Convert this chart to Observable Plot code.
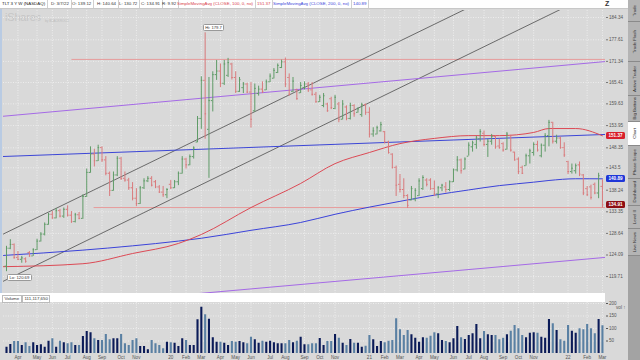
<!DOCTYPE html>
<html><head><meta charset="utf-8">
<script src="https://cdn.jsdelivr.net/npm/d3@7"></script>
<script src="https://cdn.jsdelivr.net/npm/@observablehq/plot@0.6"></script>
<style>
html,body{margin:0;padding:0;}
body{width:640px;height:360px;overflow:hidden;background:#d9d9d9;font-family:"Liberation Sans",Arial,sans-serif;}
#wrap{position:relative;width:640px;height:360px;background:#d9d9d9;}
.abs{position:absolute;}
#hdr{left:0;top:0;width:628px;height:9px;background:#fff;border-bottom:1px solid #c8c8c8;box-sizing:border-box;}
.hi{position:absolute;top:0;height:8px;line-height:8px;font-size:4.4px;color:#333;white-space:nowrap;border-right:1px solid #d0d0d0;padding:0 2px;box-sizing:border-box;}
#volstrip{left:0;top:293px;width:605px;height:9px;background:#fff;}
.vbox{position:absolute;top:1.5px;height:6px;line-height:6px;font-size:4.4px;color:#333;border:0.6px solid #bbb;padding:0 1.5px;background:#fff;white-space:nowrap;}
#side{left:628px;top:0;width:12px;height:360px;background:#a3a3a3;}
.tab{position:absolute;left:0;width:12px;border-bottom:1px solid #8a8a8a;box-sizing:border-box;background:#b4b4b4;display:flex;align-items:center;justify-content:center;}
.tab span{writing-mode:vertical-rl;transform:rotate(180deg);font-size:4.4px;color:#333;white-space:nowrap;}
.badge{position:absolute;left:606px;width:19px;height:7px;line-height:7px;font-size:4.6px;color:#fff;text-align:center;border-radius:1.5px;font-weight:bold;}
.lab{position:absolute;font-size:4.2px;line-height:5px;height:5px;padding:0 1.5px;background:#fff;border:0.6px solid #999;border-radius:1.5px;color:#333;white-space:nowrap;}
svg{position:absolute;left:0;}
</style></head>
<body><div id="wrap"></div>
<script>
// ---- weekly OHLC (TLT, 3 years weekly) ----
const opens=[121.8,125.5,126.3,123.6,123.2,123.3,124.6,123.9,125.2,127.0,
128.5,130.6,132.8,132.0,133.6,132.4,133.9,132.6,131.2,132.7,
131.9,136.8,142.4,146.8,145.2,148.4,145.4,142.2,138.2,141.8,
145.8,141.0,140.6,138.8,136.4,135.2,138.8,140.4,141.0,140.2,
139.0,137.8,137.2,139.6,138.8,140.2,142.2,145.6,144.2,146.2,
149.8,155.8,166.0,153.0,160.5,167.6,168.6,165.2,167.4,170.6,
166.8,163.0,164.0,165.0,162.8,157.8,162.4,163.6,163.4,165.6,
166.6,168.2,169.6,171.2,166.8,163.0,163.4,162.6,164.0,165.0,
163.4,162.2,160.2,159.2,159.6,161.0,158.4,159.6,155.6,158.8,
155.8,159.2,157.4,156.8,159.4,157.4,151.8,151.8,152.6,152.4,
149.8,146.8,143.6,139.6,138.4,137.0,136.0,136.2,137.0,138.6,
140.6,140.6,138.6,137.4,138.8,139.0,138.4,140.2,143.0,145.4,
143.2,146.3,148.6,149.2,150.6,152.0,149.2,150.0,151.2,148.8,
149.4,148.0,151.4,147.3,145.6,143.6,144.0,146.4,147.2,149.2,
146.4,149.0,151.4,154.8,150.0,150.8,148.4,145.0,142.6,142.8,
144.2,141.8,138.6,139.0,139.6,137.6,139.12];
const highs=[125.9,127.3,126.4,124.8,123.8,123.5,124.8,125.4,127.4,128.8,
130.9,133.0,133.4,134.1,133.9,134.2,134.7,133.4,133.0,133.2,
137.2,143.2,148.6,148.0,149.0,148.6,146.2,142.5,142.5,146.2,
146.0,142.5,141.0,140.0,138.6,139.1,140.9,141.4,141.4,140.5,
139.3,139.1,138.6,140.5,140.5,142.5,146.2,145.8,146.6,148.6,
156.3,167.0,179.7,166.8,168.4,171.6,170.6,171.6,172.2,170.8,
168.4,166.8,165.4,165.2,165.4,165.0,164.4,165.6,166.1,167.8,
169.3,170.6,171.7,172.3,167.8,166.8,163.6,165.4,165.6,165.4,
165.4,162.7,161.9,162.4,159.8,161.4,161.9,160.0,160.5,159.1,
159.8,159.4,158.6,159.8,159.6,158.6,153.4,153.8,154.8,152.5,
150.0,146.9,143.9,141.9,140.9,137.2,139.1,138.6,140.9,141.6,
140.9,140.9,140.4,139.1,139.6,140.0,140.4,143.2,146.2,145.6,
145.9,149.6,150.0,151.2,152.9,152.6,150.5,151.7,151.4,150.5,
149.6,152.2,151.5,147.3,145.9,143.9,146.8,148.0,149.6,150.0,
149.3,151.9,155.3,154.8,151.5,151.0,149.6,145.1,144.4,144.4,
144.9,141.9,139.1,139.4,139.9,142.2,140.64];
const lows=[120.69,125.2,123.2,122.9,122.4,122.4,123.6,123.8,125.0,126.8,
128.1,130.4,131.7,131.8,132.0,131.9,132.2,130.8,130.9,131.6,
131.7,136.6,142.2,143.7,145.0,144.8,141.6,136.8,138.0,141.4,
140.5,140.1,138.2,135.8,134.5,135.0,138.4,140.0,139.0,138.6,
137.5,136.6,136.3,138.4,138.6,139.3,142.0,143.2,144.0,145.6,
149.6,153.0,150.5,141.0,157.5,166.0,164.0,164.6,166.8,166.1,
162.4,162.7,162.4,162.4,153.3,157.4,161.7,162.4,163.2,165.4,
166.4,167.9,169.3,164.0,161.7,162.7,160.6,162.4,163.4,162.7,
161.7,159.8,160.0,158.6,157.4,158.1,158.1,154.7,155.4,155.2,
155.4,156.1,157.2,156.1,156.6,150.8,151.0,151.6,152.3,149.3,
146.8,143.2,136.8,137.6,136.3,134.1,135.8,135.6,136.8,138.2,
139.0,138.2,136.8,136.3,137.9,137.6,137.9,140.0,142.5,142.0,
143.0,146.3,147.3,148.0,149.8,148.6,146.0,149.0,148.0,148.0,
147.3,147.8,147.3,145.1,141.9,141.9,143.9,144.4,146.3,147.3,
145.9,147.3,148.6,149.3,149.3,148.0,146.0,141.9,142.0,142.0,
141.4,137.0,136.8,136.0,137.2,136.3,134.2];
const closes=[125.5,126.3,123.6,123.2,123.5,122.8,123.9,125.2,127.0,128.5,
130.6,132.8,132.0,133.6,132.4,133.9,132.6,131.2,132.7,131.9,
136.8,142.4,146.8,145.2,148.4,145.4,142.2,138.2,141.8,145.8,
141.0,140.6,138.8,136.4,135.2,138.8,140.4,141.0,139.4,139.0,
137.8,137.2,138.4,138.8,140.2,142.2,145.6,144.2,146.2,148.3,
155.8,166.0,157.0,160.5,167.6,168.6,165.2,170.6,171.0,166.8,
163.0,166.2,165.0,162.8,155.6,163.8,163.6,163.0,165.6,167.2,
168.8,170.2,171.2,165.0,162.2,165.8,161.0,164.6,165.0,163.4,
162.2,160.2,161.4,161.8,157.8,158.6,161.4,155.6,159.6,155.8,
159.2,157.0,158.3,159.4,157.4,151.8,152.6,153.4,154.2,149.8,
147.2,143.6,139.4,138.4,137.0,134.8,138.6,138.2,140.4,141.2,
139.6,138.6,137.4,138.8,139.4,138.4,140.2,143.0,145.4,142.8,
145.6,149.0,149.6,150.8,152.4,149.2,150.0,151.2,148.6,148.4,
147.8,151.8,147.8,145.4,142.6,142.2,146.4,147.6,149.2,147.8,
149.0,151.4,154.8,150.0,150.8,148.4,146.6,142.6,143.4,144.0,
142.0,137.6,137.2,136.6,137.6,141.6,134.91];
// weekly volume, millions of shares
const volumes=[25,36,48,48,32,43,28,43,32,35,25,49,59,25,49,43,39,43,32,32,
68,88,83,59,52,52,76,55,59,59,76,39,32,52,59,28,28,15,52,39,
32,19,45,43,41,28,59,52,32,32,135,185,155,137,63,45,45,41,32,48,
45,48,43,39,65,55,41,49,45,49,43,39,39,39,52,43,49,65,35,35,
39,39,60,
32,48,48,76,61,41,32,56,41,41,25,29,72,55,28,48,43,49,52,139,
95,72,92,75,61,45,63,61,69,83,79,52,48,43,59,108,63,56,72,79,
116,59,88,75,72,72,55,61,75,89,112,99,72,63,81,83,81,65,61,136,
119,92,55,49,112,89,81,99,95,116,99,79,136,111];

// ---- moving averages (week index -> value) ----
const smaWeeks=[-0.8,20,33,45,51,64,77,86,95,103,112,121,129,138,142,149,156];
const sma100=[121.7,122.3,124.4,126.5,128.4,134.3,139.8,144.5,147.2,149.4,150.7,151.4,151.4,152.2,153.2,153.2,151.37];
const sma200=[124.0,125.1,126.0,127.0,127.6,129.3,131.0,132.8,134.4,135.7,137.1,138.3,139.3,140.1,140.5,140.9,140.89];

// ---- drawn trend lines (week index, price) ----
const lineFromWeek=[-1.6,-1.6,-1.6,-1.6,-1.6];
const lineFromPrice=[128.2,118.5,156.3,113.0,146.2];
const lineToWeek=[156.8,156.8,156.8,156.8,156.8];
const lineToPrice=[209.4,193.8,171.3,123.6,151.7];
const lineColors=["#3a3a3a","#3a3a3a","#a56ae6","#a56ae6","#3c46d6"];
const levelPrices=[171.9,134.3];
const levelFromWeek=[17.0,22.8];

// ---- axes ----
const priceTicks=[184.34,177.61,171.34,165.41,159.63,153.95,148.35,143.5,138.24,133.35,128.64,124.09,119.71];
const volTicks=[50,100,150,200];

const t0=Date.UTC(2019,2,11), wk=7*864e5;
const weekDate=i=>new Date(t0+i*wk);
const dates=d3.utcMonday.range(new Date(t0), new Date(Date.UTC(2022,2,8)));
const bars=dates.map((d,i)=>({date:d,open:opens[i],high:highs[i],low:lows[i],close:closes[i],vol:volumes[i]}));
const monthTicks=[];
{let prev=null;dates.forEach(d=>{const k=d.getUTCFullYear()*12+d.getUTCMonth();if(k!==prev){if(prev!==null&&d.getUTCMonth()!==11)monthTicks.push(d);prev=k;}});}
const monthFmt=d=>d.getUTCMonth()===0?d3.utcFormat("%y")(d):d3.utcFormat("%b")(d);
const xDomain=[weekDate(-0.785),weekDate(156.8)];
const shift=(d,days)=>new Date(+d+days*864e5);
const upC="#5f9b67", dnC="#d97a7c";
const barColor=d=>d.close>=d.open?upC:dnC;

const trends=lineColors.map((c,i)=>({x1:weekDate(lineFromWeek[i]),y1:lineFromPrice[i],x2:weekDate(lineToWeek[i]),y2:lineToPrice[i],c}));
const levels=levelPrices.map((p,i)=>({x1:weekDate(levelFromWeek[i]),x2:weekDate(156.8),p}));
const s100=smaWeeks.map((w,i)=>({date:weekDate(w),v:sma100[i]}));
const s200=smaWeeks.map((w,i)=>({date:weekDate(w),v:sma200[i]}));
const gridStyle={stroke:"#f6f6f6",strokeDasharray:"1,1.5",strokeWidth:0.7};
const font="Liberation Sans, Arial, sans-serif";

const price=Plot.plot({
  width:628,height:283,marginLeft:3,marginRight:23,marginTop:0,marginBottom:0,
  style:{background:"transparent",fontFamily:font,color:"#555",overflow:"visible"},
  x:{type:"utc",domain:xDomain,axis:null},
  y:{type:"log",domain:[116.38,186.5],axis:null},
  color:{type:"identity"},
  marks:[
    Plot.ruleY(priceTicks,gridStyle),
    Plot.ruleX(monthTicks,gridStyle),
    Plot.link(levels,{x1:"x1",x2:"x2",y1:"p",y2:"p",stroke:"#e69b9b",strokeWidth:1,clip:true}),
    Plot.link(trends,{x1:"x1",y1:"y1",x2:"x2",y2:"y2",stroke:"c",strokeWidth:d=>d.c==="#3a3a3a"?0.7:1,clip:true}),
    Plot.line(s200,{x:"date",y:"v",stroke:"#3b43d9",strokeWidth:1,curve:"monotone-x",clip:true}),
    Plot.line(s100,{x:"date",y:"v",stroke:"#dc4a55",strokeWidth:1,curve:"monotone-x",clip:true}),
    Plot.ruleX(bars,{x:"date",y1:"low",y2:"high",stroke:barColor,strokeWidth:1}),
    Plot.ruleY(bars,{y:"open",x1:d=>shift(d.date,-2.7),x2:"date",stroke:barColor,strokeWidth:1}),
    Plot.ruleY(bars,{y:"close",x1:"date",x2:d=>shift(d.date,2.7),stroke:barColor,strokeWidth:1}),
    Plot.axisY({anchor:"right",ticks:priceTicks,tickFormat:d=>String(d),tickSize:2,tickPadding:1.5,fontSize:4.6,stroke:"#777"})
  ]
});
price.style.top="10px";

const vol=Plot.plot({
  width:628,height:58,marginLeft:3,marginRight:23,marginTop:0,marginBottom:7,
  style:{background:"transparent",fontFamily:font,color:"#555",overflow:"visible"},
  x:{type:"utc",domain:xDomain,axis:null},
  y:{domain:[0,204],axis:null},
  color:{type:"identity"},
  marks:[
    Plot.ruleY(volTicks,gridStyle),
    Plot.ruleX(monthTicks,gridStyle),
    Plot.ruleX(bars,{x:"date",y1:0,y2:"vol",stroke:d=>d.close>=d.open?"#0b1b58":"#5a80a3",strokeWidth:2.1}),
    Plot.axisY({anchor:"right",ticks:volTicks,tickSize:2,tickPadding:1.5,fontSize:4.6}),
    Plot.axisX({anchor:"bottom",ticks:monthTicks,tickFormat:monthFmt,tickSize:0,tickPadding:1.8,fontSize:4.6})
  ]
});
vol.style.top="302px";

const wrap=document.getElementById("wrap");
wrap.innerHTML=`
<div class="abs" style="left:0;top:9px;width:1.5px;height:284px;background:#b9cbe3"></div>
<div class="abs" style="left:5px;top:11px;font-size:11px;line-height:12px;color:#c6c6c6;letter-spacing:-0.2px;font-family:'Liberation Sans',sans-serif">iShares</div>
<div class="abs" style="left:45px;top:19px;font-size:3.2px;line-height:4px;color:#bdbdbd">by BLACKROCK</div>
<div id="hdr" class="abs"></div>
<div id="volstrip" class="abs"><div class="vbox" style="left:2px">Volume</div><div class="vbox" style="left:22px">111,117,650</div></div>
<div id="side" class="abs"></div>`;
wrap.appendChild(price);
wrap.appendChild(vol);

// header
const hdrItems=[
 ["TLT 3 Y W (NASDAQ)",0,"#222"],["D: 3/7/22",49,"#333"],["O: 139.12",70,"#333"],["H: 140.64",95,"#333"],
 ["L: 130.72",117,"#333"],["C: 134.91",139,"#333"],["R: 9.92",160,"#333"],
 ["SimpleMovingAvg (CLOSE, 100, 0, no)",175,"#d9414a"],["151.37",255,"#d9414a"],
 ["SimpleMovingAvg (CLOSE, 200, 0, no)",271,"#3b43d9"],["140.89",351,"#3b43d9"]];
const hdr=document.getElementById("hdr");
hdrItems.forEach(([t,l,c])=>{const s=document.createElement("div");s.className="hi";s.style.left=l+"px";s.style.color=c;s.textContent=t;hdr.appendChild(s);});
const z=document.createElement("div");z.className="abs";z.style.cssText="left:605px;top:0;font-size:7px;line-height:8px;font-weight:bold;color:#333";z.textContent="Z";wrap.appendChild(z);

// sidebar tabs
const tabs=[["Trade",0,22],["Trade Flash",22,40],["Active Trader",62,34],["Big Buttons",96,26],["Chart",122,24],["Phase Scope",146,33],["Dashboard",179,27],["Level II",206,23],["Live News",229,27]];
const side=document.getElementById("side");
tabs.forEach(([t,top,h])=>{const d=document.createElement("div");d.className="tab";d.style.top=top+"px";d.style.height=h+"px";if(t==="Chart")d.style.background="#fff";d.innerHTML=`<span>${t}</span>`;side.appendChild(d);});

// value badges and hi/lo labels, placed with the chart's own scales
const ys=price.scale("y"), xs=price.scale("x");
[[sma100[sma100.length-1],"#d8202c"],[sma200[sma200.length-1],"#1f37d8"],[closes[closes.length-1],"#8e0f14"]].forEach(([v,c])=>{
  const b=document.createElement("div");b.className="badge";b.style.background=c;b.style.top=(10+ys.apply(v)-3.5)+"px";b.textContent=v.toFixed(2);wrap.appendChild(b);});
const iHi=highs.indexOf(d3.max(highs)), iLo=lows.indexOf(d3.min(lows));
const hiL=document.createElement("div");hiL.className="lab";hiL.textContent="Hi: "+highs[iHi];
hiL.style.left=(xs.apply(dates[iHi])-2)+"px";hiL.style.top=(10+ys.apply(highs[iHi])-8)+"px";wrap.appendChild(hiL);
const loL=document.createElement("div");loL.className="lab";loL.textContent="Lo: "+lows[iLo];
loL.style.left=(xs.apply(dates[iLo])+1)+"px";loL.style.top=(10+ys.apply(lows[iLo])+3)+"px";wrap.appendChild(loL);
</script></body></html>
